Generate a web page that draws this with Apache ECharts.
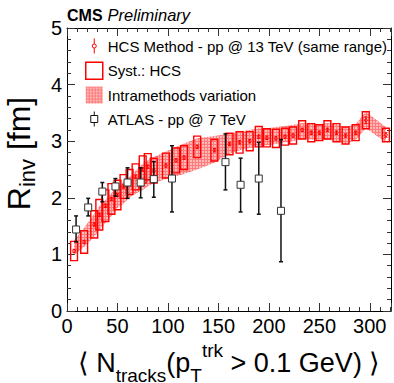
<!DOCTYPE html>
<html><head><meta charset="utf-8">
<script src="https://cdn.jsdelivr.net/npm/echarts@6/dist/echarts.min.js"></script>
<style>html,body{margin:0;padding:0;background:#fff}#c{width:394px;height:383px}</style>
</head><body><div id="c"></div>
<script>
// ---- data ----
const hcsX    = [7, 17, 27, 32, 38, 44, 50, 56, 62, 68, 75, 80, 86, 98, 108, 116, 129, 146, 161, 171, 181, 190, 198, 207, 216, 224, 233, 242, 250, 258, 267, 276, 286, 296, 316];
const hcsY    = [1.06, 1.22, 1.53, 1.70, 1.86, 1.98, 2.05, 2.20, 2.28, 2.37, 2.50, 2.55, 2.48, 2.57, 2.66, 2.71, 2.90, 2.84, 2.95, 2.98, 3.00, 3.08, 3.06, 3.05, 3.08, 3.10, 3.20, 3.15, 3.15, 3.20, 3.15, 3.10, 3.15, 3.37, 3.11];
const hcsSyst = [0.17, 0.20, 0.24, 0.27, 0.28, 0.27, 0.26, 0.21, 0.22, 0.23, 0.24, 0.23, 0.22, 0.22, 0.22, 0.21, 0.19, 0.19, 0.19, 0.19, 0.17, 0.18, 0.16, 0.16, 0.15, 0.15, 0.16, 0.16, 0.14, 0.16, 0.16, 0.15, 0.14, 0.15, 0.12];
const hcsStat = [0.03, 0.03, 0.03, 0.03, 0.03, 0.03, 0.03, 0.03, 0.03, 0.03, 0.03, 0.03, 0.03, 0.03, 0.03, 0.03, 0.03, 0.03, 0.03, 0.03, 0.03, 0.03, 0.03, 0.03, 0.03, 0.03, 0.03, 0.03, 0.03, 0.03, 0.03, 0.03, 0.03, 0.06, 0.04];
const bandLow  = [0.99, 1.13, 1.31, 1.43, 1.55, 1.68, 1.82, 1.90, 2.00, 2.07, 2.14, 2.20, 2.26, 2.33, 2.38, 2.42, 2.50, 2.62, 2.78, 2.84, 2.88, 2.90, 2.93, 2.95, 2.98, 3.00, 3.04, 3.03, 3.02, 3.03, 3.00, 2.95, 3.02, 3.23, 2.98];
const bandHigh = [1.25, 1.47, 1.72, 1.85, 1.96, 2.08, 2.19, 2.28, 2.37, 2.48, 2.60, 2.66, 2.72, 2.82, 2.90, 2.96, 3.05, 3.09, 3.13, 3.17, 3.20, 3.23, 3.23, 3.25, 3.27, 3.29, 3.32, 3.31, 3.30, 3.32, 3.30, 3.25, 3.30, 3.52, 3.25];
const atlasX    = [9, 21, 35, 48, 60, 73, 86, 104, 157, 172, 190, 212];
const atlasY    = [1.44, 1.83, 2.11, 2.20, 2.27, 2.27, 2.33, 2.34, 2.63, 2.23, 2.34, 1.77];
const atlasLow  = [1.22, 1.68, 1.93, 2.03, 1.99, 2.00, 2.01, 1.75, 2.14, 1.75, 1.71, 0.87];
const atlasHigh = [1.68, 1.99, 2.27, 2.34, 2.53, 2.53, 2.64, 2.92, 3.13, 2.70, 2.98, 3.03];
const xRange = [0, 321];
const yRange = [0, 5];
const legendNames = ['HCS Method - pp @ 13 TeV (same range)', 'Syst.: HCS', 'Intramethods variation', 'ATLAS - pp @ 7 TeV'];

// ---- styling ----
const FONT = 'Liberation Sans, Arial, Helvetica, sans-serif';
const RED = '#ff0000';
const BOX_HALF = 3.4;
const pc = document.createElement('canvas'); pc.width = 3; pc.height = 3;
const pctx = pc.getContext('2d');
pctx.fillStyle = 'rgba(255,140,140,0.6)'; pctx.fillRect(0, 0, 3, 3);
pctx.fillStyle = 'rgba(255,80,80,0.6)'; pctx.fillRect(0, 0, 1, 3); pctx.fillRect(1, 0, 2, 1);
const bandFill = { image: pc, repeat: 'repeat', imageWidth: 3, imageHeight: 3 };

const chart = echarts.init(document.getElementById('c'), null, { renderer: 'svg' });

function renderBand(params, api) {
  if (params.dataIndexInside !== 0) return null;
  const n = params.dataInsideLength;
  const top = [], bot = [];
  for (let j = 0; j < n; j++) {
    top.push(api.coord([api.value(0, j), api.value(2, j)]));
    bot.push(api.coord([api.value(0, j), api.value(1, j)]));
  }
  return { type: 'polygon', shape: { points: top.concat(bot.reverse()) },
    style: { fill: bandFill, stroke: 'none' } };
}
function renderBox(params, api) {
  const x = api.value(0), y = api.value(1), e = api.value(2);
  const tl = api.coord([x - BOX_HALF, y + e]);
  const br = api.coord([x + BOX_HALF, y - e]);
  return { type: 'rect', shape: { x: tl[0], y: tl[1], width: br[0] - tl[0], height: br[1] - tl[1] },
    style: { fill: 'none', stroke: RED, lineWidth: 1.4 } };
}
function renderHcs(params, api) {
  const x = api.value(0), y = api.value(1), e = api.value(2);
  const c = api.coord([x, y]), lo = api.coord([x, y - e]), hi = api.coord([x, y + e]);
  const st = { stroke: RED, lineWidth: 1 };
  return { type: 'group', children: [
    { type: 'line', shape: { x1: c[0], y1: lo[1], x2: c[0], y2: hi[1] }, style: st },
    { type: 'line', shape: { x1: c[0] - 1.5, y1: lo[1], x2: c[0] + 1.5, y2: lo[1] }, style: st },
    { type: 'line', shape: { x1: c[0] - 1.5, y1: hi[1], x2: c[0] + 1.5, y2: hi[1] }, style: st },
    { type: 'circle', shape: { cx: c[0], cy: c[1], r: 1.5 }, style: { fill: 'none', stroke: RED, lineWidth: 0.8 } }
  ] };
}
function renderAtlas(params, api) {
  const x = api.value(0), y = api.value(1), lo = api.value(2), hi = api.value(3);
  const c = api.coord([x, y]), pl = api.coord([x, lo]), ph = api.coord([x, hi]);
  const st = { stroke: '#111', lineWidth: 1.5 };
  const s = 3.5, cap = 2;
  return { type: 'group', children: [
    { type: 'line', shape: { x1: c[0], y1: pl[1], x2: c[0], y2: ph[1] }, style: st },
    { type: 'line', shape: { x1: c[0] - cap, y1: pl[1], x2: c[0] + cap, y2: pl[1] }, style: st },
    { type: 'line', shape: { x1: c[0] - cap, y1: ph[1], x2: c[0] + cap, y2: ph[1] }, style: st },
    { type: 'rect', shape: { x: c[0] - s, y: c[1] - s, width: 2 * s, height: 2 * s }, style: { fill: '#fff', stroke: '#333', lineWidth: 1 } }
  ] };
}

const tickStyle = { color: '#333', width: 1 };
function mkX(pos, show) {
  return { type: 'value', min: xRange[0], max: xRange[1], interval: 50, position: pos,
    axisLine: { show: true, onZero: false, lineStyle: { color: '#000', width: 1 } },
    axisTick: { inside: true, length: 8, lineStyle: tickStyle },
    minorTick: { show: true, splitNumber: 5, length: 4, lineStyle: tickStyle },
    splitLine: { show: false }, minorSplitLine: { show: false },
    axisLabel: { show: show, showMaxLabel: false, fontSize: 20, color: '#000', fontFamily: FONT, margin: 5 } };
}
function mkY(pos, show) {
  return { type: 'value', min: yRange[0], max: yRange[1], interval: 1, position: pos,
    axisLine: { show: true, onZero: false, lineStyle: { color: '#000', width: 1 } },
    axisTick: { inside: true, length: 8, lineStyle: tickStyle },
    minorTick: { show: true, splitNumber: 5, length: 4, lineStyle: tickStyle },
    splitLine: { show: false }, minorSplitLine: { show: false },
    axisLabel: { show: show, fontSize: 20, color: '#000', fontFamily: FONT, margin: 5 } };
}
const xb = mkX('bottom', true);
xb.name = '⟨ N{sub|tracks}(p{sub|T}{sup|trk} > 0.1 GeV) ⟩';
xb.nameLocation = 'middle';
xb.nameGap = 23;
xb.nameTextStyle = { fontSize: 27, lineHeight: 44, color: '#000', fontFamily: FONT,
  rich: { sub: { fontSize: 19, lineHeight: 19, verticalAlign: 'bottom', fontFamily: FONT, color: '#000' },
          sup: { fontSize: 19, lineHeight: 19, verticalAlign: 'top', fontFamily: FONT, color: '#000' } } };
const yl = mkY('left', true);
yl.name = 'R{sub|inv} [fm]';
yl.nameLocation = 'middle';
yl.nameGap = 29;
yl.nameRotate = 90;
yl.nameTextStyle = { fontSize: 32, color: '#000', fontFamily: FONT, padding: [0, 0, 0, 32],
  rich: { sub: { fontSize: 22, fontFamily: FONT, color: '#000', padding: [17, 0, 0, 0] } } };

const option = {
  animation: false,
  backgroundColor: '#fff',
  textStyle: { fontFamily: FONT },
  title: { left: 67, top: 6, padding: 0, text: '{b|CMS} {i|Preliminary}',
    textStyle: { rich: {
      b: { fontWeight: 'bold', fontSize: 16, fontFamily: FONT, color: '#000' },
      i: { fontStyle: 'italic', fontWeight: 'normal', fontSize: 16.5, fontFamily: FONT, color: '#000' } } } },
  grid: { left: 67, right: 3, top: 28, bottom: 72, containLabel: false, outerBoundsMode: 'none' },
  legend: {
    orient: 'vertical', left: 85, top: 37, padding: 0, itemWidth: 17, itemHeight: 17, itemGap: 6.5,
    selectedMode: false,
    textStyle: { fontSize: 15, lineHeight: 17, color: '#000', fontFamily: FONT },
    data: [
      { name: legendNames[0], icon: 'path://M0 0M17 17M8.5 1L8.5 6.5M8.5 10.5L8.5 16M10.5 8.5A2 2 0 1 1 6.5 8.5A2 2 0 1 1 10.5 8.5',
        itemStyle: { color: 'transparent', borderColor: RED, borderWidth: 1 } },
      { name: legendNames[1], icon: 'rect', itemStyle: { color: 'transparent', borderColor: RED, borderWidth: 1.5 } },
      { name: legendNames[2], icon: 'rect', itemStyle: { color: bandFill, borderWidth: 0 } },
      { name: legendNames[3], icon: 'path://M0 0M17 17M8.5 1L8.5 5M8.5 12L8.5 16M5 5L12 5L12 12L5 12Z',
        itemStyle: { color: '#fff', borderColor: '#111', borderWidth: 1 } }
    ]
  },
  xAxis: [xb, mkX('top', false)],
  yAxis: [yl, mkY('right', false)],
  series: [
    { name: legendNames[2], type: 'custom', renderItem: renderBand, xAxisIndex: 0, yAxisIndex: 0, z: 1, silent: true,
      itemStyle: { color: bandFill },
      encode: { x: 0, y: [1, 2] }, data: hcsX.map((x, i) => [x, bandLow[i], bandHigh[i]]) },
    { name: legendNames[1], type: 'custom', renderItem: renderBox, xAxisIndex: 0, yAxisIndex: 0, z: 2,
      itemStyle: { color: RED },
      encode: { x: 0, y: 1 }, data: hcsX.map((x, i) => [x, hcsY[i], hcsSyst[i]]) },
    { name: legendNames[0], type: 'custom', renderItem: renderHcs, xAxisIndex: 0, yAxisIndex: 0, z: 3,
      itemStyle: { color: RED },
      encode: { x: 0, y: 1 }, data: hcsX.map((x, i) => [x, hcsY[i], hcsStat[i]]) },
    { name: legendNames[3], type: 'custom', renderItem: renderAtlas, xAxisIndex: 0, yAxisIndex: 0, z: 4,
      itemStyle: { color: '#111' },
      encode: { x: 0, y: 1 }, data: atlasX.map((x, i) => [x, atlasY[i], atlasLow[i], atlasHigh[i]]) }
  ]
};
chart.setOption(option);
</script>
</body></html>
